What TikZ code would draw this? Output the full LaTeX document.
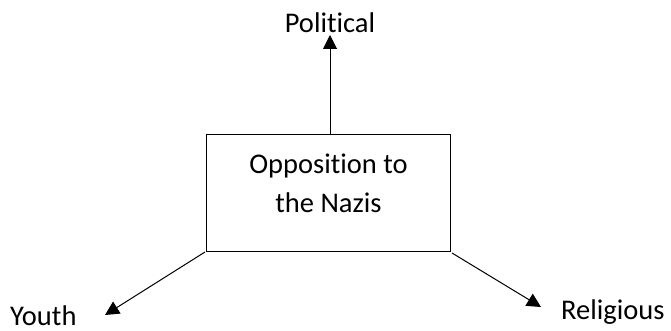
\documentclass[tikz,border=0pt]{standalone}
\usepackage{fontspec}
\setmainfont[Ligatures=NoCommon]{Carlito}
\usetikzlibrary{arrows.meta}
\begin{document}
\begin{tikzpicture}[x=1pt,y=-1pt,
  lbl/.style={inner sep=0pt,font=\fontsize{28.5}{38}\selectfont},
  boxst/.style={draw,line width=1pt,minimum width=244pt,minimum height=116pt,inner sep=0pt},
  arr/.style={line width=1pt,-{Triangle[length=14pt,width=14pt]}}]
\useasboundingbox (0,0) rectangle (671,331);
\node[boxst] (box) at (328,193) {};
\node[lbl,anchor=base] (t1) at (328.5,174) {Opposition to};
\node[lbl,anchor=base] (t2) at (328.5,212) {the Nazis};
\node[lbl,anchor=base] (pol) at (330,33) {Political};
\node[lbl,anchor=base west] (you) at (10,325) {Youth};
\node[lbl,anchor=base west] (rel) at (561,319) {Religious};
\coordinate (ps) at (330,135);
\coordinate (pt) at (330,35);
\coordinate (ys) at (205,252);
\coordinate (yt) at (105,315);
\coordinate (rs) at (452,253);
\coordinate (rt) at (541,307);
\draw[arr] (ps) -- (pt);
\draw[arr] (ys) -- (yt);
\draw[arr] (rs) -- (rt);
\end{tikzpicture}
\end{document}
